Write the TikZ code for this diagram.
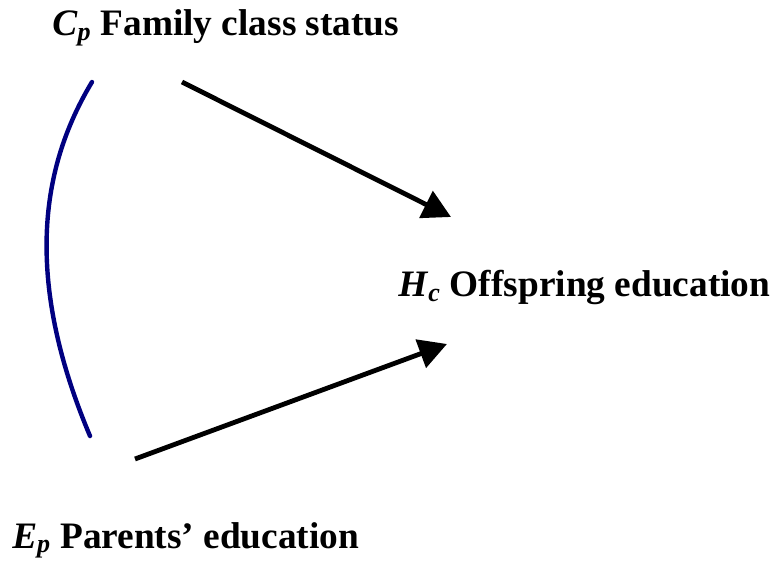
\documentclass[tikz,border=0pt]{standalone}
\usepackage{fontspec}
\setmainfont{Liberation Serif}
\usepackage{tikz}
\usetikzlibrary{arrows.meta}
\definecolor{curvenavy}{RGB}{0,0,128}
\tikzstyle{arrow} = [line width=3.6pt,-{Triangle[length=21pt,width=22pt]}]
\tikzstyle{link} = [line width=3.3pt, draw=curvenavy, line cap=round]
\tikzstyle{var} = [inner sep=0pt, anchor=base west, font=\fontsize{28}{32}\selectfont\bfseries]
\newcommand{\varsym}[2]{\textit{#1}\textsubscript{\textit{#2}}}

\begin{document}
\begin{tikzpicture}[x=0.75pt, y=-0.75pt]
            \useasboundingbox (0,0) rectangle (778,573);

            \node (cp) [var] at (52,36)  {\varsym{C}{p} Family class status};
            \node (hc) [var] at (398,297) {\varsym{H}{c} Offspring education};
            \node (ep) [var] at (12,548) {\varsym{E}{p} Parents’ education};

            \coordinate (cpout) at (182,82);
            \coordinate (hcin1) at (451,217);
            \coordinate (epout) at (135,459);
            \coordinate (hcin2) at (447,344);
            \coordinate (ltop) at (92,82);
            \coordinate (lbot) at (90,436);

            \draw [arrow] (cpout) -- (hcin1);
            \draw [arrow] (epout) -- (hcin2);
            \draw [link] (ltop) .. controls (45,160) and (20,270) .. (lbot);

        \end{tikzpicture}
\end{document}
